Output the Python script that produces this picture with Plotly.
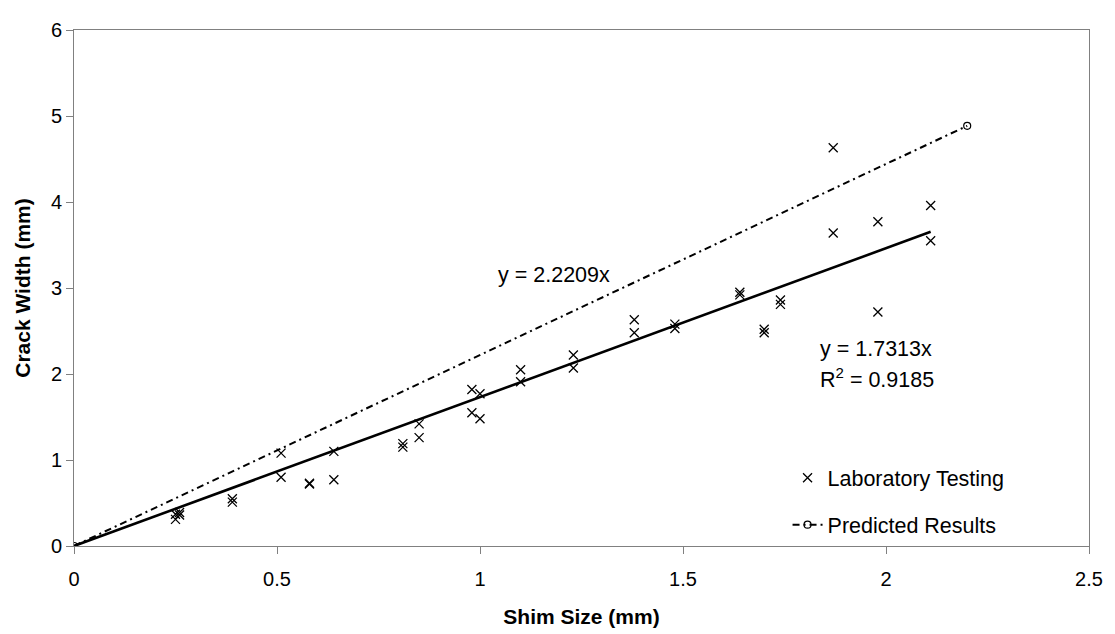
import plotly.graph_objects as go

# Laboratory testing data (shim size mm, crack width mm)
shim_size = [0.25, 0.25, 0.26, 0.26, 0.39, 0.39, 0.51, 0.51, 0.58, 0.58,
             0.64, 0.64, 0.81, 0.81, 0.85, 0.85, 0.98, 0.98, 1.00, 1.00,
             1.10, 1.10, 1.23, 1.23, 1.38, 1.38, 1.48, 1.48, 1.64, 1.64,
             1.70, 1.70, 1.74, 1.74, 1.87, 1.87, 1.98, 1.98, 2.11, 2.11]
crack_width = [0.31, 0.37, 0.39, 0.36, 0.51, 0.55, 1.08, 0.80, 0.72, 0.73,
               1.10, 0.77, 1.15, 1.19, 1.42, 1.26, 1.82, 1.55, 1.77, 1.48,
               2.05, 1.91, 2.22, 2.07, 2.63, 2.48, 2.58, 2.53, 2.95, 2.92,
               2.52, 2.48, 2.86, 2.81, 4.63, 3.64, 3.77, 2.72, 3.96, 3.55]

# Predicted results
pred_x = [0, 2.2]
pred_slope = 2.2209
pred_y = [pred_slope * v for v in pred_x]

# Linear trendline through origin for laboratory data
trend_slope = 1.7313
trend_r2 = 0.9185
trend_x = [0, max(shim_size)]
trend_y = [trend_slope * v for v in trend_x]

FONT = "Liberation Sans, Arial, sans-serif"
TXT = 21.5

fig = go.Figure()

fig.add_trace(go.Scatter(
    x=trend_x, y=trend_y, mode="lines",
    line=dict(color="black", width=2.6),
    showlegend=False, hoverinfo="skip"))

fig.add_trace(go.Scatter(
    x=shim_size, y=crack_width, mode="markers",
    name="Laboratory Testing",
    legendgroup="a",
    marker=dict(symbol="x-thin", size=9, color="black",
                line=dict(color="black", width=1.3))))

fig.add_trace(go.Scatter(
    x=pred_x, y=pred_y, mode="lines+markers",
    name="Predicted Results",
    legendgroup="b",
    line=dict(color="black", width=2, dash="7px,4px,2px,4px"),
    marker=dict(symbol="circle-open", size=7, color="black",
                line=dict(color="black", width=1.2))))

fig.add_annotation(x=1.04, y=3.15, xref="x", yref="y",
                   text=f"y = {pred_slope}x", showarrow=False,
                   xanchor="left", yanchor="middle",
                   font=dict(family=FONT, size=TXT, color="black"))
fig.add_annotation(x=1.833, y=2.29, xref="x", yref="y",
                   text=f"y = {trend_slope}x", showarrow=False,
                   xanchor="left", yanchor="middle",
                   font=dict(family=FONT, size=TXT, color="black"))
fig.add_annotation(x=1.833, y=1.95, xref="x", yref="y",
                   text=f"R<sup>2</sup> = {trend_r2}", showarrow=False,
                   xanchor="left", yanchor="middle",
                   font=dict(family=FONT, size=TXT, color="black"))

fig.update_layout(
    width=1115, height=634,
    margin=dict(l=66, r=34, t=11, b=96),
    paper_bgcolor="white", plot_bgcolor="white",
    font=dict(family=FONT, size=20, color="black"),
    legend=dict(x=0.703, y=0.172, xanchor="left", yanchor="top",
                bgcolor="rgba(0,0,0,0)", font=dict(family=FONT, size=TXT),
                traceorder="grouped", tracegroupgap=16),
    xaxis=dict(range=[0, 2.5], dtick=0.5, tick0=0,
               showgrid=False, zeroline=False,
               showline=True, linecolor="#808080", linewidth=1, mirror=True,
               ticks="outside", ticklen=7, tickcolor="#808080",
               ticklabelstandoff=8,
               tickfont=dict(family=FONT, size=20),
               title=dict(text="<b>Shim Size (mm)</b>",
                          font=dict(family=FONT, size=21), standoff=20)),
    yaxis=dict(range=[0, 6], dtick=1, tick0=0,
               showgrid=False, zeroline=False,
               showline=True, linecolor="#808080", linewidth=1, mirror=True,
               ticks="outside", ticklen=7, tickcolor="#808080",
               tickfont=dict(family=FONT, size=20),
               title=dict(text="<b>Crack Width (mm)</b>",
                          font=dict(family=FONT, size=21), standoff=14)),
)

fig.write_html("out.html")
